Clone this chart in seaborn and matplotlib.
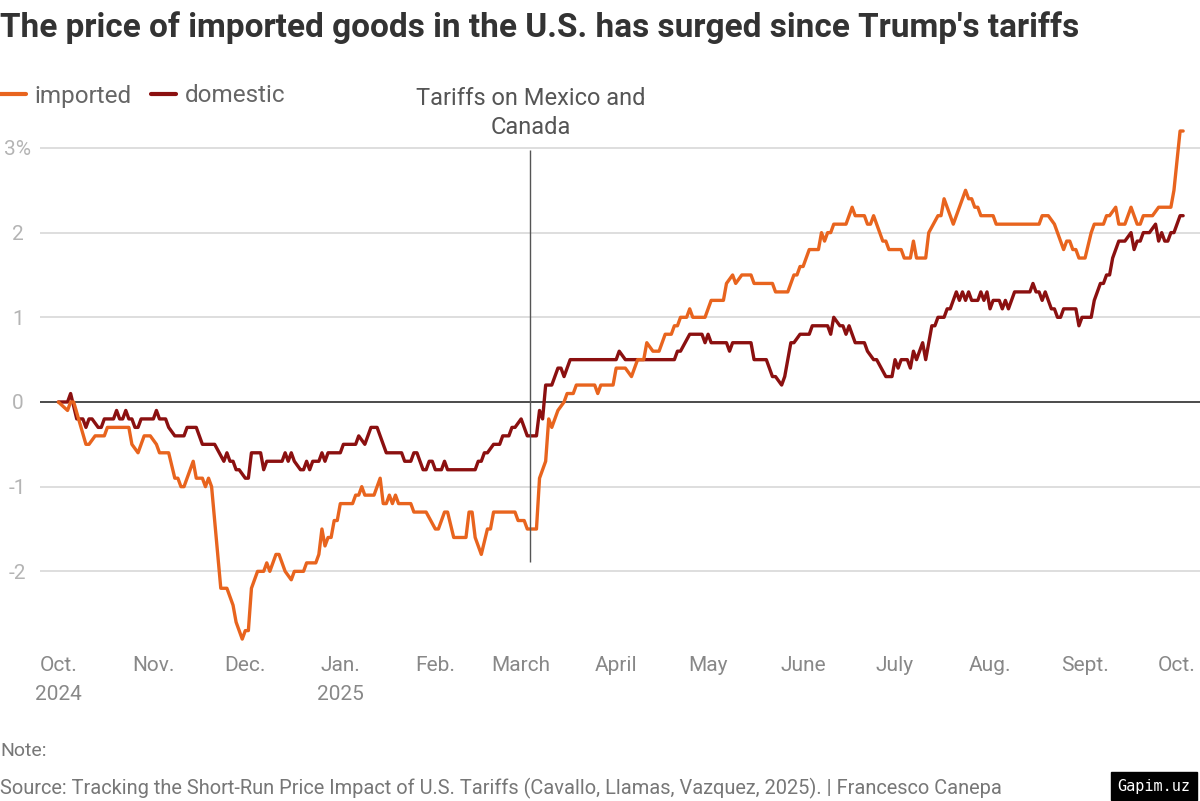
import pandas as pd
import matplotlib.pyplot as plt
import seaborn as sns
from matplotlib.lines import Line2D

# price change since Oct 2024, %
imported_dates = [
    # Oct 2024
    '2024-10-01', '2024-10-04', '2024-10-05', '2024-10-06', '2024-10-10', '2024-10-11', '2024-10-13', '2024-10-16',
    '2024-10-17', '2024-10-24', '2024-10-25', '2024-10-27', '2024-10-28', '2024-10-29', '2024-10-31',
    # Nov
    '2024-11-02', '2024-11-03', '2024-11-06', '2024-11-08', '2024-11-09', '2024-11-10', '2024-11-11', '2024-11-14',
    '2024-11-15', '2024-11-17', '2024-11-18', '2024-11-19', '2024-11-20', '2024-11-23', '2024-11-25', '2024-11-27',
    '2024-11-28', '2024-11-30',
    # Dec
    '2024-12-01', '2024-12-02', '2024-12-03', '2024-12-04', '2024-12-05', '2024-12-07', '2024-12-08', '2024-12-09',
    '2024-12-11', '2024-12-12', '2024-12-14', '2024-12-16', '2024-12-17', '2024-12-20', '2024-12-21', '2024-12-24',
    '2024-12-25', '2024-12-26', '2024-12-27', '2024-12-28', '2024-12-29', '2024-12-30', '2024-12-31',
    # Jan 2025
    '2025-01-01', '2025-01-05', '2025-01-06', '2025-01-07', '2025-01-08', '2025-01-09', '2025-01-12', '2025-01-14',
    '2025-01-15', '2025-01-16', '2025-01-17', '2025-01-18', '2025-01-19', '2025-01-20', '2025-01-24', '2025-01-25',
    '2025-01-29',
    # Feb
    '2025-02-01', '2025-02-02', '2025-02-04', '2025-02-05', '2025-02-07', '2025-02-11', '2025-02-12', '2025-02-13',
    '2025-02-14', '2025-02-16', '2025-02-18', '2025-02-19', '2025-02-20', '2025-02-27', '2025-02-28',
    # Mar
    '2025-03-02', '2025-03-03', '2025-03-06', '2025-03-07', '2025-03-08', '2025-03-09', '2025-03-10', '2025-03-11',
    '2025-03-13', '2025-03-15', '2025-03-16', '2025-03-18', '2025-03-19', '2025-03-25', '2025-03-26', '2025-03-27',
    '2025-03-31',
    # Apr
    '2025-04-01', '2025-04-04', '2025-04-06', '2025-04-08', '2025-04-10', '2025-04-11', '2025-04-13', '2025-04-15',
    '2025-04-17', '2025-04-19', '2025-04-20', '2025-04-21', '2025-04-22', '2025-04-24', '2025-04-25', '2025-04-26',
    '2025-04-30',
    # May
    '2025-05-02', '2025-05-06', '2025-05-07', '2025-05-09', '2025-05-10', '2025-05-12', '2025-05-15', '2025-05-16',
    '2025-05-22', '2025-05-23', '2025-05-27', '2025-05-29', '2025-05-30', '2025-05-31',
    # Jun
    '2025-06-01', '2025-06-02', '2025-06-03', '2025-06-06', '2025-06-07', '2025-06-08', '2025-06-09', '2025-06-10',
    '2025-06-11', '2025-06-15', '2025-06-17', '2025-06-18', '2025-06-21', '2025-06-22', '2025-06-23', '2025-06-24',
    '2025-06-27', '2025-06-28', '2025-06-29',
    # Jul
    '2025-07-03', '2025-07-04', '2025-07-06', '2025-07-07', '2025-07-08', '2025-07-11', '2025-07-12', '2025-07-15',
    '2025-07-16', '2025-07-17', '2025-07-20', '2025-07-24', '2025-07-25', '2025-07-26', '2025-07-27', '2025-07-28',
    '2025-07-29',
    # Aug
    '2025-08-02', '2025-08-03', '2025-08-17', '2025-08-18', '2025-08-20', '2025-08-22', '2025-08-25', '2025-08-26',
    '2025-08-27', '2025-08-28', '2025-08-29', '2025-08-30',
    # Sep
    '2025-09-01', '2025-09-03', '2025-09-04', '2025-09-07', '2025-09-08', '2025-09-09', '2025-09-11', '2025-09-12',
    '2025-09-14', '2025-09-16', '2025-09-18', '2025-09-19', '2025-09-20', '2025-09-23', '2025-09-25', '2025-09-29',
    '2025-09-30',
    # Oct
    '2025-10-02', '2025-10-03',
]
imported_vals = [
    0.0, -0.1, 0.0, 0.0, -0.5, -0.5, -0.4, -0.4,
    -0.3, -0.3, -0.5, -0.6, -0.5, -0.4, -0.4,
    -0.5, -0.6, -0.6, -0.9, -0.9, -1.0, -1.0, -0.7,
    -0.9, -0.9, -1.0, -0.9, -1.0, -2.2, -2.2, -2.4,
    -2.6, -2.8,
    -2.7, -2.7, -2.2, -2.1, -2.0, -2.0, -1.9, -2.0,
    -1.8, -1.8, -2.0, -2.1, -2.0, -2.0, -1.9, -1.9,
    -1.8, -1.5, -1.7, -1.6, -1.6, -1.4, -1.4,
    -1.2, -1.2, -1.1, -1.1, -1.0, -1.1, -1.1, -0.9,
    -1.2, -1.2, -1.1, -1.2, -1.1, -1.2, -1.2, -1.3,
    -1.3,
    -1.5, -1.5, -1.3, -1.3, -1.6, -1.6, -1.3, -1.3,
    -1.6, -1.8, -1.5, -1.5, -1.3, -1.3, -1.4,
    -1.4, -1.5, -1.5, -0.9, -0.8, -0.7, -0.2, -0.3,
    -0.1, 0.0, 0.1, 0.1, 0.2, 0.2, 0.1, 0.2,
    0.2,
    0.4, 0.4, 0.3, 0.5, 0.5, 0.7, 0.6, 0.6,
    0.8, 0.8, 0.9, 0.9, 1.0, 1.0, 1.1, 1.0,
    1.0,
    1.2, 1.2, 1.4, 1.5, 1.4, 1.5, 1.5, 1.4,
    1.4, 1.3, 1.3, 1.5, 1.5, 1.6,
    1.6, 1.7, 1.8, 1.8, 2.0, 1.9, 2.0, 2.0,
    2.1, 2.1, 2.3, 2.2, 2.2, 2.1, 2.1, 2.2,
    1.9, 1.9, 1.8,
    1.8, 1.7, 1.7, 1.9, 1.7, 1.7, 2.0, 2.2,
    2.2, 2.4, 2.1, 2.5, 2.4, 2.4, 2.3, 2.3,
    2.2,
    2.2, 2.1, 2.1, 2.2, 2.2, 2.1, 1.8, 1.9,
    1.9, 1.8, 1.8, 1.7,
    1.7, 2.0, 2.1, 2.1, 2.2, 2.2, 2.3, 2.1,
    2.1, 2.3, 2.1, 2.1, 2.2, 2.2, 2.3, 2.3,
    2.5,
    3.2, 3.2,
]

domestic_dates = [
    # Oct 2024
    '2024-10-01', '2024-10-04', '2024-10-05', '2024-10-07', '2024-10-09', '2024-10-10', '2024-10-11', '2024-10-12',
    '2024-10-14', '2024-10-15', '2024-10-16', '2024-10-19', '2024-10-20', '2024-10-21', '2024-10-22', '2024-10-23',
    '2024-10-24', '2024-10-25', '2024-10-26', '2024-10-27', '2024-10-28',
    # Nov
    '2024-11-01', '2024-11-02', '2024-11-03', '2024-11-05', '2024-11-06', '2024-11-08', '2024-11-11', '2024-11-12',
    '2024-11-15', '2024-11-17', '2024-11-21', '2024-11-24', '2024-11-25', '2024-11-26', '2024-11-27', '2024-11-28',
    '2024-11-29',
    # Dec
    '2024-12-01', '2024-12-02', '2024-12-03', '2024-12-06', '2024-12-07', '2024-12-08', '2024-12-13', '2024-12-14',
    '2024-12-15', '2024-12-16', '2024-12-17', '2024-12-19', '2024-12-20', '2024-12-21', '2024-12-22', '2024-12-23',
    '2024-12-25', '2024-12-26', '2024-12-27', '2024-12-28',
    # Jan 2025
    '2025-01-01', '2025-01-02', '2025-01-06', '2025-01-07', '2025-01-09', '2025-01-11', '2025-01-13', '2025-01-16',
    '2025-01-21', '2025-01-22', '2025-01-24', '2025-01-25', '2025-01-26', '2025-01-28', '2025-01-29', '2025-01-30',
    '2025-01-31',
    # Feb
    '2025-02-01', '2025-02-03', '2025-02-04', '2025-02-05', '2025-02-14', '2025-02-15', '2025-02-16', '2025-02-17',
    '2025-02-18', '2025-02-20', '2025-02-22', '2025-02-23', '2025-02-25', '2025-02-26', '2025-02-27',
    # Mar
    '2025-03-01', '2025-03-02', '2025-03-03', '2025-03-06', '2025-03-07', '2025-03-08', '2025-03-09', '2025-03-11',
    '2025-03-13', '2025-03-14', '2025-03-15', '2025-03-17',
    # Apr
    '2025-04-01', '2025-04-02', '2025-04-04', '2025-04-20', '2025-04-21', '2025-04-22', '2025-04-25', '2025-04-29',
    '2025-04-30',
    # May
    '2025-05-01', '2025-05-02', '2025-05-07', '2025-05-08', '2025-05-09', '2025-05-15', '2025-05-16', '2025-05-20',
    '2025-05-22', '2025-05-23', '2025-05-25', '2025-05-26', '2025-05-28', '2025-05-29', '2025-05-31',
    # Jun
    '2025-06-03', '2025-06-04', '2025-06-09', '2025-06-10', '2025-06-11', '2025-06-13', '2025-06-14', '2025-06-15',
    '2025-06-16', '2025-06-18', '2025-06-21', '2025-06-22', '2025-06-24', '2025-06-25', '2025-06-28', '2025-06-30',
    # Jul
    '2025-07-01', '2025-07-02', '2025-07-03', '2025-07-05', '2025-07-06', '2025-07-07', '2025-07-08', '2025-07-10',
    '2025-07-11', '2025-07-13', '2025-07-14', '2025-07-15', '2025-07-17', '2025-07-18', '2025-07-19', '2025-07-21',
    '2025-07-22', '2025-07-23', '2025-07-24', '2025-07-25', '2025-07-26', '2025-07-28', '2025-07-29', '2025-07-30',
    '2025-07-31',
    # Aug
    '2025-08-01', '2025-08-02', '2025-08-04', '2025-08-05', '2025-08-06', '2025-08-07', '2025-08-09', '2025-08-14',
    '2025-08-15', '2025-08-16', '2025-08-17', '2025-08-18', '2025-08-19', '2025-08-21', '2025-08-22', '2025-08-23',
    '2025-08-24', '2025-08-25', '2025-08-29', '2025-08-30', '2025-08-31',
    # Sep
    '2025-09-03', '2025-09-04', '2025-09-06', '2025-09-07', '2025-09-08', '2025-09-09', '2025-09-10', '2025-09-11',
    '2025-09-12', '2025-09-14', '2025-09-16', '2025-09-17', '2025-09-18', '2025-09-19', '2025-09-20', '2025-09-22',
    '2025-09-24', '2025-09-25', '2025-09-26', '2025-09-27', '2025-09-28', '2025-09-29', '2025-09-30',
    # Oct
    '2025-10-02', '2025-10-03',
]
domestic_vals = [
    0.0, 0.0, 0.1, -0.2, -0.2, -0.3, -0.2, -0.2,
    -0.3, -0.3, -0.2, -0.2, -0.1, -0.2, -0.2, -0.1,
    -0.2, -0.2, -0.3, -0.3, -0.2,
    -0.2, -0.1, -0.2, -0.2, -0.3, -0.4, -0.4, -0.3,
    -0.3, -0.5, -0.5, -0.7, -0.6, -0.7, -0.7, -0.8,
    -0.8,
    -0.9, -0.9, -0.6, -0.6, -0.8, -0.7, -0.7, -0.6,
    -0.7, -0.6, -0.7, -0.8, -0.8, -0.7, -0.8, -0.7,
    -0.7, -0.6, -0.7, -0.6,
    -0.6, -0.5, -0.5, -0.4, -0.5, -0.3, -0.3, -0.6,
    -0.6, -0.7, -0.7, -0.6, -0.6, -0.8, -0.8, -0.7,
    -0.7,
    -0.8, -0.8, -0.7, -0.8, -0.8, -0.7, -0.7, -0.6,
    -0.6, -0.5, -0.5, -0.4, -0.4, -0.3, -0.3,
    -0.2, -0.3, -0.4, -0.4, -0.1, -0.2, 0.2, 0.2,
    0.4, 0.4, 0.3, 0.5,
    0.5, 0.6, 0.5, 0.5, 0.6, 0.6, 0.8, 0.8,
    0.7,
    0.8, 0.7, 0.7, 0.6, 0.7, 0.7, 0.5, 0.5,
    0.3, 0.3, 0.2, 0.3, 0.7, 0.7, 0.8,
    0.8, 0.9, 0.9, 0.8, 1.0, 0.9, 0.9, 0.8,
    0.9, 0.7, 0.7, 0.6, 0.5, 0.5, 0.3, 0.3,
    0.5, 0.4, 0.5, 0.5, 0.4, 0.6, 0.5, 0.7,
    0.5, 0.9, 0.9, 1.0, 1.0, 1.1, 1.1, 1.3,
    1.2, 1.3, 1.2, 1.3, 1.2, 1.2, 1.3, 1.2,
    1.3,
    1.1, 1.2, 1.2, 1.1, 1.2, 1.1, 1.3, 1.3,
    1.4, 1.3, 1.3, 1.2, 1.3, 1.1, 1.1, 1.0,
    1.0, 1.1, 1.1, 0.9, 1.0,
    1.0, 1.2, 1.4, 1.4, 1.5, 1.5, 1.7, 1.8,
    1.9, 1.9, 2.0, 1.8, 1.9, 1.9, 2.0, 2.0,
    2.1, 1.9, 2.0, 1.9, 1.9, 2.0, 2.0,
    2.2, 2.2,
]

month_ticks = ['2024-10-01', '2024-11-01', '2024-12-01', '2025-01-01', '2025-02-01', '2025-03-01', '2025-04-01',
               '2025-05-01', '2025-06-01', '2025-07-01', '2025-08-01', '2025-09-01', '2025-10-01']
month_labels = ['Oct.\n2024', 'Nov.', 'Dec.', 'Jan.\n2025', 'Feb.', 'March', 'April', 'May', 'June', 'July',
                'Aug.', 'Sept.', 'Oct.']
y_ticks = [-2, -1, 0, 1, 2, 3]
y_labels = ['-2', '-1', '0', '1', '2', '3%']
tariff_date = '2025-03-04'

assert len(imported_dates) == len(imported_vals)
assert len(domestic_dates) == len(domestic_vals)

df = pd.concat([
    pd.DataFrame({'date': pd.to_datetime(imported_dates), 'change': imported_vals, 'series': 'imported'}),
    pd.DataFrame({'date': pd.to_datetime(domestic_dates), 'change': domestic_vals, 'series': 'domestic'}),
], ignore_index=True)

sns.set_theme(style='white')
plt.rcParams['font.family'] = ['Roboto', 'DejaVu Sans']

colors = {'imported': '#e8641e', 'domestic': '#8b1010'}

fig = plt.figure(figsize=(12, 8.01), dpi=100)
ax = fig.add_axes([0.0333, 0.181, 0.9667, 0.666])

sns.lineplot(data=df, x='date', y='change', hue='series', hue_order=['domestic', 'imported'],
             palette=colors, linewidth=2.4, estimator=None, legend=False, ax=ax)

ax.set_xlim(pd.Timestamp('2024-09-25'), pd.Timestamp('2025-10-08 12:00'))
ax.set_ylim(-3.0, 3.3)

ax.set_yticks(y_ticks)
ax.set_yticklabels(y_labels)
ax.set_xticks(pd.to_datetime(month_ticks))
ax.set_xticklabels(month_labels)
ax.yaxis.grid(True, color='#d4d4d4', linewidth=1.1)
ax.xaxis.grid(False)
ax.axhline(0, color='#333333', linewidth=1.2, zorder=1)
for s in ax.spines.values():
    s.set_visible(False)
ax.tick_params(axis='y', length=0, pad=16, labelsize=15, labelcolor='#b4b4b4')
ax.tick_params(axis='x', length=0, pad=0, labelsize=15, labelcolor='#888888')
for lab in ax.get_yticklabels():
    lab.set_ha('center')
for lab in ax.get_xticklabels():
    lab.set_linespacing(1.65)
ax.set_xlabel('')
ax.set_ylabel('')

# tariff marker
td = pd.Timestamp(tariff_date)
ax.vlines(td, -1.89, 2.97, color='#555555', linewidth=1)
ax.text(td, 3.1, 'Tariffs on Mexico and\nCanada', ha='center', va='bottom', fontsize=17,
        color='#555555', linespacing=1.35, clip_on=False)

# legend
handles = [Line2D([], [], color=colors['imported'], lw=3), Line2D([], [], color=colors['domestic'], lw=3)]
fig.legend(handles, ['imported', 'domestic'], loc='center left', bbox_to_anchor=(0.0, 1 - 96 / 801),
           ncol=2, frameon=False, handlelength=1.05, handletextpad=0.35, columnspacing=0.8,
           fontsize=17.5, labelcolor='#666666', borderpad=0, borderaxespad=0)

fig.text(0.0, 1 - 28 / 801, "The price of imported goods in the U.S. has surged since Trump's tariffs",
         ha='left', va='center', fontsize=24, fontweight='bold', color='#333333')
fig.text(0.0, 1 - 751 / 801, 'Note:', ha='left', va='center', fontsize=14, color='#777777')
fig.text(0.0, 1 - 788 / 801,
         'Source: Tracking the Short-Run Price Impact of U.S. Tariffs (Cavallo, Llamas, Vazquez, 2025). | Francesco Canepa',
         ha='left', va='center', fontsize=14.4, color='#777777')
fig.text(1154 / 1200, 1 - 786 / 801, 'Gapim.uz', ha='center', va='center', fontsize=11,
         family='DejaVu Sans Mono', color='white',
         bbox=dict(facecolor='black', edgecolor='black', boxstyle='square,pad=0.45'))

fig.savefig('out.png', dpi=100)
